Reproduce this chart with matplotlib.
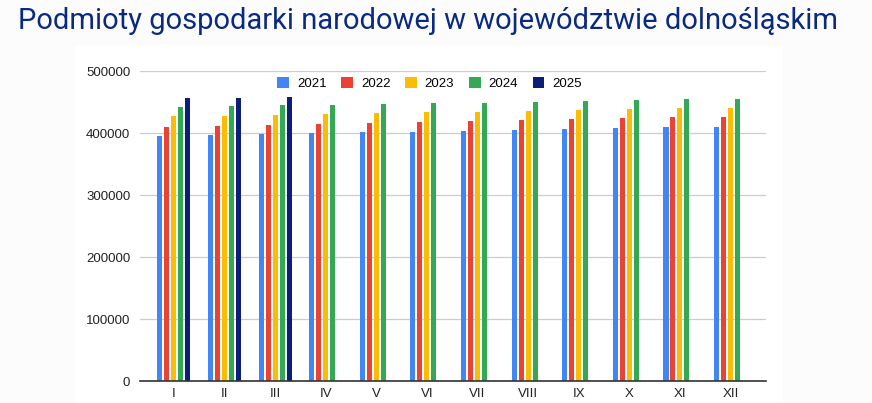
import numpy as np
import matplotlib
matplotlib.use("Agg")
import matplotlib.pyplot as plt

# =========================
# Data
# =========================
months = ["I", "II", "III", "IV", "V", "VI", "VII", "VIII", "IX", "X", "XI", "XII"]
years = ["2021", "2022", "2023", "2024", "2025"]

v2021 = [395600, 397300, 399000, 400500, 402000, 402000, 403700, 405300, 407000, 408600, 410200, 410200]
v2022 = [410200, 411800, 413400, 415000, 416600, 418200, 419800, 421400, 423000, 424700, 426300, 426300]
v2023 = [428000, 428000, 429500, 431000, 432700, 434300, 434300, 436000, 437600, 439200, 440800, 440800]
v2024 = [442500, 444000, 445600, 445600, 447300, 448900, 448900, 450500, 452100, 453700, 455300, 455300]
v2025 = [457000, 457000, 458600]

series = [v2021, v2022, v2023, v2024, v2025]
colors = ["#4285f4", "#ea4335", "#fbbc04", "#34a853", "#0b1f78"]

title = "Podmioty gospodarki narodowej w województwie dolnośląskim"

# =========================
# Figure
# =========================
W, H = 872, 403
fig = plt.figure(figsize=(W / 100, H / 100), dpi=100)
fig.patch.set_facecolor("#fcfcfc")

# white chart panel behind the axes
bg = fig.add_axes([75 / W, 0, (783 - 75) / W, (H - 46) / H], zorder=-5)
bg.set_facecolor("white")
bg.set_xticks([])
bg.set_yticks([])
for s in bg.spines.values():
    s.set_visible(False)

fig.text(18 / W, 1 - 29 / H, title, fontsize=21, color="#0a2a82",
         family="Roboto", ha="left", va="baseline")

ax = fig.add_axes([140 / W, 1 - 381 / H, (766 - 140) / W, (381 - 71) / H])
ax.set_facecolor("none")

x = np.arange(len(months))
pitch = 0.138
width = 0.099
for k, (vals, col, yr) in enumerate(zip(series, colors, years)):
    xs = x[:len(vals)] + (k - 2) * pitch
    ax.bar(xs, vals, width=width, color=col, label=yr, zorder=3)

ax.set_xlim(-0.67, 11.70)
ax.set_ylim(0, 500000)
ax.set_yticks(np.arange(0, 500001, 100000))
ax.set_yticklabels([str(v) for v in range(0, 500001, 100000)])
ax.set_xticks(x)
ax.set_xticklabels(months)
ax.tick_params(axis="both", length=0, labelsize=9.5, colors="#222222",
               labelfontfamily="Liberation Sans")
ax.tick_params(axis="y", pad=7)
ax.tick_params(axis="x", pad=5)
ax.grid(axis="y", color="#cccccc", linewidth=0.9, zorder=0)
for side in ["top", "right", "left"]:
    ax.spines[side].set_visible(False)
ax.spines["bottom"].set_color("#333333")
ax.spines["bottom"].set_linewidth(1.2)
ax.spines["bottom"].set_zorder(4)

leg = ax.legend(loc="center", bbox_to_anchor=(0.4625, 0.961), ncol=5,
                frameon=False, handlelength=0.9, handleheight=0.9,
                handletextpad=0.6, columnspacing=1.1,
                prop={"family": "Liberation Sans", "size": 9.5})

fig.savefig("out.png", dpi=100, facecolor=fig.get_facecolor())
